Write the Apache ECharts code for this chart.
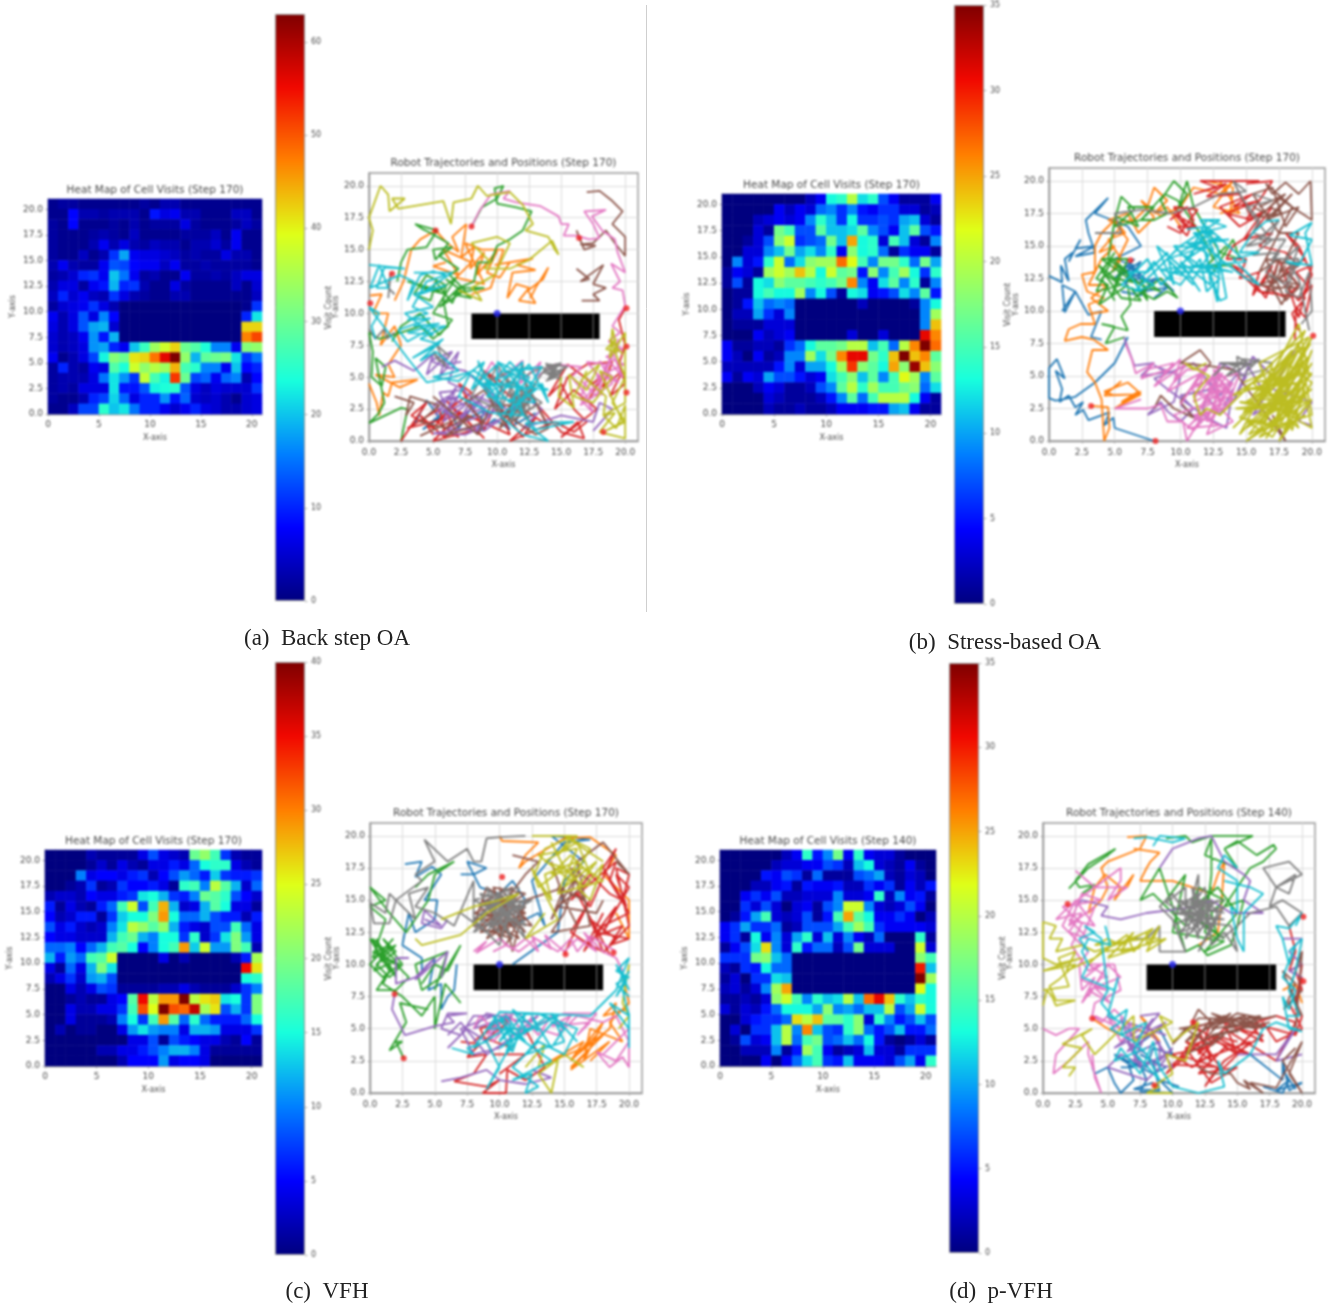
<!DOCTYPE html>
<html><head><meta charset="utf-8">
<style>html,body{margin:0;padding:0;background:#fff}
#c,#o{position:absolute;left:0;top:0;width:1333px;height:1307px}
#c{filter:blur(.8px)}</style>
<script src="https://cdn.jsdelivr.net/npm/echarts@6/dist/echarts.min.js"></script>
</head><body><div id="c"></div><div id="o"></div>
<script>
// ---------- heat map values, top row (y=20) first, 21 columns ----------
const heatA=[
[1,2,2,1,1,1,1,1,1,2,1,3,3,1,1,1,1,1,1,1,1],
[1,1,8,3,3,2,3,3,3,1,9,6,7,3,3,1,1,1,4,4,1],
[2,1,8,1,1,1,2,1,3,1,2,2,2,6,2,1,1,1,2,4,2],
[2,1,1,1,2,3,2,1,4,1,1,1,1,2,2,2,4,1,7,1,1],
[2,1,1,1,3,7,3,6,3,2,4,3,3,1,3,3,5,2,7,1,1],
[2,1,1,4,1,3,11,18,7,6,6,5,4,2,3,2,2,6,3,3,1],
[3,7,3,2,2,7,13,12,8,7,7,4,7,2,2,3,2,2,2,2,1],
[2,3,5,10,11,7,20,15,7,2,3,1,1,7,2,2,3,2,4,6,6],
[3,6,6,2,7,9,19,10,11,3,1,1,6,2,1,1,1,1,4,1,5],
[4,10,5,7,4,3,11,6,3,2,1,1,3,3,1,1,1,1,1,1,4],
[2,5,6,7,11,6,3,0,0,0,0,0,0,0,0,0,0,0,0,1,11],
[7,3,6,13,6,16,8,0,0,0,0,0,0,0,0,0,0,0,0,10,22],
[6,3,6,13,18,19,5,0,0,0,0,0,0,0,0,0,0,0,0,42,42],
[5,3,4,7,17,9,19,0,0,0,0,0,0,0,0,0,0,0,0,47,51],
[5,3,4,6,17,18,10,7,20,26,34,38,42,30,28,24,16,16,7,32,33],
[7,1,3,6,12,23,32,30,41,42,48,56,63,33,19,29,30,31,22,11,15],
[2,10,3,2,7,6,28,24,38,33,36,34,44,27,25,16,16,7,20,8,10],
[2,3,3,3,6,15,22,17,11,37,27,23,52,30,12,14,7,14,16,3,8],
[2,3,2,6,6,6,22,9,9,13,23,24,25,13,6,4,6,5,5,5,11],
[2,1,1,3,10,12,21,14,6,10,10,17,9,14,5,4,5,3,1,5,6],
[1,1,4,12,12,25,20,22,15,10,10,7,5,7,10,6,5,3,3,5,6]];
const heatB=[
[0,0,0,0,0,0,0,0,2,4,13,14,20,12,14,7,4,1,1,1,4],
[0,0,0,0,0,4,2,4,3,8,9,6,9,5,4,6,6,3,3,1,2],
[0,0,0,2,3,4,3,4,9,14,11,6,13,6,6,7,6,10,11,3,1],
[0,0,0,3,1,17,15,7,7,16,11,11,12,16,9,7,4,11,16,7,5],
[0,0,1,3,7,18,21,6,7,8,17,11,25,13,14,3,15,11,3,1,9],
[0,0,3,3,9,11,17,10,12,9,14,4,18,13,14,8,1,6,4,4,1],
[0,9,3,5,14,21,8,12,18,19,19,27,22,15,9,17,17,14,8,17,10],
[1,4,3,1,19,21,19,24,20,13,21,16,17,5,18,9,15,19,13,6,14],
[1,7,1,13,12,18,16,16,15,14,15,17,26,9,4,12,16,9,14,1,9],
[0,1,1,13,15,13,13,19,9,13,7,1,13,12,4,5,7,12,9,16,5],
[0,1,5,11,8,9,8,0,0,0,0,0,0,2,0,0,0,0,1,9,13],
[0,2,2,10,6,3,9,0,0,0,0,0,0,0,0,0,0,0,0,9,19],
[0,1,1,1,3,3,3,0,0,0,0,0,0,0,0,0,0,0,0,9,24],
[0,0,0,4,2,3,4,0,0,0,0,0,3,0,0,3,0,0,0,31,26],
[4,1,1,2,2,1,6,8,13,16,16,17,20,20,11,15,8,20,26,35,27],
[4,2,0,4,1,2,9,9,19,12,17,26,31,31,17,14,24,35,24,26,16],
[2,2,2,2,2,5,9,3,10,10,13,19,29,18,16,13,25,18,34,24,18],
[4,1,4,3,10,7,7,5,3,4,12,15,18,11,16,9,15,22,19,9,16],
[0,0,0,2,4,3,1,1,2,7,9,16,20,14,19,15,15,17,18,8,12],
[0,0,0,0,3,2,1,1,1,2,5,9,16,8,15,20,20,20,13,4,1],
[0,0,0,0,2,1,1,2,1,1,2,4,4,4,5,5,10,11,4,1,1]];
const heatC=[
[0,0,0,0,2,1,1,1,1,4,8,4,3,2,19,21,17,7,2,1,1],
[0,0,0,0,1,3,1,4,2,1,4,4,6,4,9,15,16,16,4,2,1],
[0,0,0,10,4,5,5,4,6,7,2,5,8,11,9,6,13,7,6,6,7],
[0,0,1,2,7,1,2,7,5,5,6,4,1,16,17,10,23,18,12,3,9],
[2,3,3,2,5,4,4,6,7,14,15,12,7,6,10,19,18,16,8,5,3],
[6,1,4,2,1,6,9,17,24,8,17,28,12,3,4,12,18,15,4,4,1],
[5,2,3,6,6,1,7,13,15,15,20,29,15,9,9,12,8,6,6,2,6],
[8,4,6,3,2,3,10,14,23,21,18,21,12,6,4,3,8,8,17,9,4],
[5,4,4,3,3,3,12,17,19,12,10,15,15,7,16,3,7,14,20,11,4],
[9,9,10,5,9,12,17,18,15,5,10,15,17,29,13,24,11,11,20,17,2],
[12,6,11,9,17,18,24,0,0,0,0,4,0,2,0,0,0,0,2,6,22],
[4,1,9,4,12,20,14,0,0,0,0,0,0,0,0,0,0,0,0,35,26],
[2,4,7,3,11,12,8,0,0,0,0,0,0,0,0,0,0,0,0,15,16],
[0,0,4,2,4,8,7,1,1,1,1,2,2,4,2,1,1,1,3,7,10],
[0,0,1,2,1,1,4,5,18,35,23,29,29,40,23,26,27,14,15,7,20],
[0,0,4,2,2,4,4,7,17,32,25,40,32,31,37,22,26,8,12,7,20],
[0,0,4,1,1,1,2,10,15,7,17,29,18,9,16,9,6,6,6,9,15],
[0,2,0,1,1,0,0,4,11,14,11,10,10,4,12,12,11,4,4,4,7],
[0,0,0,0,0,0,0,0,4,4,8,1,8,6,5,4,4,2,1,5,1],
[0,0,0,0,0,2,2,4,4,6,8,10,12,12,10,4,1,1,1,1,1],
[0,0,0,0,0,0,0,2,5,5,5,11,4,5,5,4,0,0,0,0,0]];
const heatD=[
[0,0,0,0,0,0,2,4,14,5,9,17,4,14,4,3,3,1,0,0,0],
[0,0,0,0,0,2,3,3,4,4,7,6,2,11,13,3,2,1,4,1,0],
[0,0,0,0,5,4,7,6,1,8,1,1,1,7,8,10,2,1,3,2,0],
[0,0,0,2,2,4,5,1,5,4,4,5,2,2,6,4,6,1,4,2,5],
[0,0,4,6,4,7,2,2,3,3,3,9,3,3,4,14,2,9,4,5,1],
[0,0,6,3,7,3,0,3,4,1,7,9,21,21,9,3,2,3,7,4,0],
[0,1,5,10,15,3,2,3,7,1,5,15,25,16,13,4,4,6,4,0,2],
[4,6,10,6,6,8,1,2,7,7,7,10,15,19,15,6,4,4,4,4,3],
[4,6,1,13,4,9,3,10,14,3,11,3,9,4,2,8,0,0,0,14,1],
[1,4,7,12,23,9,3,14,5,8,8,2,7,17,3,3,3,0,0,21,3],
[6,6,6,17,18,11,8,0,0,0,0,0,0,0,0,0,0,0,0,18,15],
[2,1,6,5,13,8,8,0,0,0,0,0,0,0,0,0,0,0,0,30,11],
[1,3,0,6,6,12,11,0,0,0,0,0,0,0,0,0,0,0,0,35,19],
[2,3,1,3,9,19,25,0,0,0,0,0,0,0,0,0,0,0,0,22,13],
[1,1,2,1,3,18,21,15,9,14,11,12,20,11,27,31,24,14,11,14,13],
[3,1,3,2,5,8,13,13,13,10,18,9,10,8,11,11,20,7,10,21,13],
[0,0,3,5,6,6,8,23,20,24,16,16,14,18,3,14,9,5,7,11,7],
[0,3,0,6,6,11,20,9,26,11,7,6,14,18,8,5,7,11,5,5,8],
[0,1,7,3,4,11,20,8,15,17,7,8,11,8,13,5,1,0,1,3,1],
[0,0,2,2,2,9,1,5,19,15,4,1,2,3,11,3,3,1,6,6,6],
[0,0,0,0,4,0,4,8,12,15,6,5,11,4,4,4,3,7,10,4,14]];
const barMaxA=63, barMaxB=35, barMaxC=40, barMaxD=35;
const barTicksA=[0,10,20,30,40,50,60], barTicksB=[0,5,10,15,20,25,30,35], barTicksC=[0,5,10,15,20,25,30,35,40], barTicksD=[0,5,10,15,20,25,30,35];
const xTicksHeat=[0,5,10,15,20], tickLabels=[0,2.5,5,7.5,10,12.5,15,17.5,20];
const obstacle=[[8,8,18,10]], goal=[[10,10]];
// ---------- trajectories, flat x,y lists (null,null = hidden stretch) ----------
const A0=[3.5,1.2,4.5,3.2,5.5,1.8,4.2,0.9,6.2,2.6,7,1,8.2,3,7.4,1.6,9,2.4,8.4,0.6,9.8,1.7,11,0.9,9.6,3.2,10.8,2,12.2,3.4,11.4,1.3,13,2.2];
const A1=[0,4.5,0.6,3,0.8,2,1.1,3.8,1.5,3.5,1.8,4.6,3.8,4.8,2.4,4.2,0.5,5.2,2,5,1.5,6,2.5,7.5,2,9,0.9,7.5,1.5,10,0.3,10,1,11.5,0.1,11.4,null,null,2,11,2.7,12.5,3.3,15,4,15.8,5.2,16.5,6,15.6,7,14.8,6.5,16,7.6,17,7.2,14.4,8.2,15.2,7.9,13.5,9,14.8,8.4,13,10,14.9,9.2,13.2,10.2,12.8,11,14,9.8,13.8,12.8,14.3,11.5,13.8,13,13.4,11.2,13.2,10.8,11.2,11.5,12.3,12.5,12,11.7,11,13,10.8,12.4,11.8,13.6,12.7,14,13.6,13,12,12.6,11.2,null,null,6,14,5,13.7,7,13,5.8,15,8,14,6.8,12.8,9,12.3,7.5,15.5,8.8,15,10.5,15,9.5,12,8,11.5];
const A2=[0,1.4,2.5,2.6,3,2.5,2.5,0,null,null,0,1.4,0.7,2.1,1.2,3,0.5,6.5,1.3,5.8,1,4.3,0.2,5,0.3,7,0,8.5,0.8,8,2.5,8.5,4,9,5,8,6.2,9,5.8,11,6,12.2,4.5,13,3.5,11.5,4.8,11,5.2,12.5,6.5,10.8,7,12,5.5,10.5,7.5,11.8,6.3,13,7,13.5,5.5,14.5,6.5,15.2,5,15,5.2,14.2,6.2,15.5,4.8,16.3,4.2,16.6,3.6,17,5.3,16.5,4.5,15.2,3,15,2.5,14,2.2,12.5,null,null,8,16.8,8.8,18.3,10,19,10.5,20,9.8,19.8,10,18.6,11.5,18.3,12.7,18,12,16.5,11,15.8,10,15.3,9.5,14,8.5,14,8.2,12.5,7,12,9,12,6.5,11.5,8,11.2,6,12.7,null,null,4,12,6,11.5,3,12.5,5.5,11.8,6.8,12.8,5,10,6.5,9.5,5.5,8.3,4,10,2.5,9,1.8,7.8];
const A3=[2.5,0,3.5,1.5,4.5,3,3.3,2,5,1,6.8,3,5.3,1.5,7,0.3,6,2.3,8,3.8,7,4.5,9,0.9,9.5,2,10.5,4.5,9,5.5,12,2.5,14,1.2,13,3,15,0.7,16.8,0.2,16.3,1.5,15,0.3,17.8,2.5,16,4,14.5,2.5,15.5,5,17,6,19,6.2,18.2,4.2,19.8,5.5,18.8,3.5,20,4.5,19.5,6,20,7.5,19.5,9.5,20,10.4,null,null,5,0.5,4,2,6,0.2,5.5,2.5,3,1,7,2,5,0,8,0.8,6,3.2,9,0.2,7,2.3,11,0.5,10,3,12,0.3,13,1.8,11,0,14.5,1.5,16,0.7,17,1.5,16,2.5,15,4.5,14,3.5,15.5,6,17.5,4.5,18.5,5.5,17,3];
const A4=[1,5.8,2,6.3,3.5,5.5,5,6.8,4.5,5.2,6,6.6,5.5,5,7,7,6.2,4.6,7.5,4,5.5,3.8,6.3,2,5.5,3,7,3.5,6,2.3,8,3.2,7,1.5,9,3.7,8,2.2,10,3,8.8,1.2,6.5,0.8,5,0.6,7.5,0.5,10.5,1.8,12,3.5,13.5,2.5,12,1,15,2,17.5,1.5,18,3,19,2.5,17.5,0.8,null,null,5.2,2,6.8,4.2,5.8,1.5,7.5,2.8,6.2,3.5,5,2.8,6.8,1.8,8.5,2.8,7.2,4.2,9.5,1.8,8.2,3.6,10.5,2.6,6,1,9,0.8,11,2.2,9.5,3.8,7.5,5.5,6,5.8,4.8,6.3,6.5,7,5.8,6,7.2,6.2];
const A5=[2,3.5,3.5,3,2.9,2,3.2,3.5,5.5,2.8,4,1.5,6,1,8,2,6,0.4,9,1.5,7.5,3,9,4,10.5,1.5,11.5,3.5,12.5,1.5,11.5,4,10.8,2,12,2.8,11,3.2,12.3,3.8,11,1.4,13,2.8,null,null,4,0.4,7,1.8,5,3.5,8.5,0.5,9.5,2.8,11,2.8,10.2,1,12.8,3.5,14,1,13,0.5,10,2.5,null,null,16.6,11,18,11,17.5,11.5,18.5,12,17.5,12.3,18.3,13.8,16.5,12.5,17.2,12.7,16.2,13.5,null,null,16.2,16.5,16.8,15,17.7,15.3,16.5,15.4,17.5,15.5,18.5,16.5,19.2,15.5,20,14.5,20,16,19,17,19.8,18,19,18.8,18,19.6,17,19.5];
const A6=[8,16.8,8.6,18,9.5,19.3,11,19.6,10.5,19,11.5,18.7,13.4,18.4,14.8,17.6,15,17,15.6,17,15.2,16.1,16.2,16.1,17.2,15.8,18,15.9,17.5,17,16.8,18,18.5,18.1,17.4,17.6,18.2,16.5,19.2,15.8,19.4,14.8,20,13.2,18.9,13.9,19.6,12.5,19,12,19.8,11.8,20,10.6,19,9,19.6,8.5,18.7,7.8,19.8,7.2,18.5,6.6,19.9,6,18.6,5.4,19.5,4.6,17.8,5.2,18.2,3.6,17,4.8,16.5,3.3,17.5,2.2,16.8,3.8,15.8,5,16.6,5.8,14.5,6,13,5,13.4,6.2,11.8,4.5,12,6.3,10.4,5,9.6,6.2,8.8,4.8,null,null,16.5,4.8,17.8,3.5,18.5,6,17,6.2,18.2,4.8,19,7,19.8,5,18.8,6.2,19.5,8,18.5,5.5,16.5,2.8,19,4.5,18,6.3];
const A7=[0,8.8,0.5,8,1.2,8.8,1.4,8,2,8.5,null,null,1.5,11.2,1.7,13.2,1.5,12,2,11.5,null,null,8.5,6,9.5,4.8,10,6,11,4.2,11.2,2.2,12,3.5,11.6,1.8,12.4,3,11,3.8,12.2,2.2,11.8,4,13,3.2,12,5,13.5,5.8,14.5,5,13.8,6.1,15,5.3,14,4.9,14.8,6,13.6,5.4,15,4.8,14.2,5.8,14.6,5,13.8,4.7,15.2,5.6,null,null,9,5.5,8,3.5,10,2.5,9,4.5,11,5.5,10,2,12,6,12.5,2.5,11,1.5,13,4.5,12,2.2,13.5,3,10.8,4.8,12.4,1.6,11.3,3,12.6,4,14,6,15.5,5.8,14,5.2,15,6.1,13.8,5.8,null,null,5.5,6.2,5,7,6,5.8,5.3,7.5,6.3,6.6];
const A8=[0,15,0.3,16.5,0,17.5,0.9,20,1.5,19.3,1.6,18,2.8,19,1.8,19,2.3,18.2,5.8,18.8,6.4,17,6.6,18.7,8,19,8.5,20,9.2,19.2,11,19.5,12,18.5,12.8,17,12.2,16.5,14,16,14.5,15,14.8,14.6,14.3,15.7,12.5,14.2,11,13.5,9,13.5,9.5,14,8,15.5,10,16,11,15.5,9.8,13,8,12,8.5,11.5,8.8,11,7,11.8,null,null,15,5,14.8,3.5,16,2.6,15.6,5.2,17,4,18,6,16.8,5,18.5,3.5,18.3,2,19.2,2.2,18,0.7,20,0.2,20,2.8,19.3,1,18.3,2,20,3,20,8.5,18.8,6.5,19,8.8,19.4,7,18.5,7.2,19.3,8,null,null,17,5.5,16,3.5,17.5,3,19,5,18,5.5,19.8,1.5,18.5,0.8,20,1.5,19,3,20,5,18.8,8,19.8,6.8];
const A9=[0,13.8,1,13.7,2.8,13.5,1.2,13.6,0.6,12,1.5,12,0.8,13.8,0.1,12,2.4,13,3.5,12.5,3,11,4,13,5,13.3,6,13,4.5,12.5,3.4,10.5,4.6,10,3,9.5,4.8,9.6,2.3,8.7,3,7.8,5,8.9,6,9,4,8,5.5,7.6,3.4,6.5,5.8,8,4,6.3,5.2,7,7,5.5,5,5,7,4.7,9,6.2,8,4,10,6,10,3.5,12,5.5,9.8,4.8,11,6.2,13,4,10.2,2,12,0.5,14,0,12.2,1.4,16,1.5,13,0.9,11.5,2.8,13.5,4.5,14,3,12.5,6,10.5,4,8.2,5.5,6.5,5,4.5,4.6,3,6.5,0,10.5,0.8,10,0.2,9,0.5,8,null,null,8.5,6.3,9.5,4,8,5.2,10.5,2.5,9,5,11,3,12.5,5,10,6.2,13,3,9.2,3.5,12,6.2,11,1.8,13.5,5.8,10.5,5.5,14,4,8.5,4.5,11.5,4.5,12,2,9.5,2.2,7,3.5,8,5.5,null,null,3.5,9,5.5,9.2,3,8.5,5,8.3,2.8,10,5,10.5,3.5,11.5,6,12.2,4,11.5,6.5,13.2,3.5,13.2];
const redA=[[5.2,16.5],[8,16.8],[0.1,10.8],[1.8,13.1],[16.4,15.9],[20.1,10.4],[20.1,7.4],[20.1,3.8],[18.3,0.7]];

const B0=[8,0,5,1,4.9,1.8,4.2,1.2,4.6,2.2,3,1.6,2.6,2.4,2,2,2.6,3,2,2.6,1.5,3.5,0.8,3,1,4,0.5,5.4,1.2,4.8,0.6,6.3,0,5.6,0,3.3,0.5,3.1,2,3.4,3.5,4.5,5,6,6,8,null,null,0,12.7,1,12.2,0.9,13.5,1.5,12.3,1.2,14,1.8,14.5,1.5,13.8,2.4,15.5,2,14.8,3.5,15,2,14.2,3.5,14.5,3,16,2.8,17,4.5,18.7,3.5,17.5,4.8,17,6,16.5,7,15,6,14.5,5,14,6.5,13.5,5.5,12.8,6.8,13.2,5.8,13.5,7,12.8,5.9,12.6,8,12.3,7,11.5,9,11.8,8,11,null,null,1,10,2,11.5,1,12,1.2,9.9,2,11.5,3,9.7,4,10,3.2,8,4,7.8,null,null,5.5,13,6.5,14,5,12.5,7,13.8,5.8,12,6.2,13.5,7.5,12.3,6.5,12.8,5.2,13.5,6.8,12.2,8.5,12.5,9.5,11.5,8,12.5,7,11.2,5.5,11.5];
const B1=[3.2,2.7,4.5,2.6,4.6,1,4.2,0,4,3.2,3.5,4.5,2.9,5.3,3.3,7,4.5,7,3.4,7.8,2.5,8,1.2,7.7,1.5,8.6,2.4,9,3.5,9,3,10.5,4.2,11,2.9,11.5,2.5,12.8,3.5,13,3.5,15,4,16,5,17,5.8,16,4.5,15.5,5.5,14,4.8,13,6,15.5,5,16.8,6.5,17,7.5,18,8,19.5,9,18.5,8,17.5,9,18,10,16.5,null,null,5,3.5,4.2,3.8,6,4.5,6.8,3.8,5.5,3,7,3.8,5,2.5,7,3.6,4.2,3.5,5.5,4.6,null,null,12,20,14,19.5,13.8,17.5,14.5,18,13,17.5,null,null,3.2,9.8,4.5,10,3.2,11,4.5,12,3,12,4,14,5,15,3.8,14.5,5.5,16.5,4.5,17,6,17.5,6.8,16,8,17.2,7,18.5,8.5,17.3,10,18,11,19.5,13,19,14,20,12.5,18,14.5,17.5,13,20];
const B2=[5.8,8,4.3,7.5,5,8.8,4,9,6,8.5,5.5,9.6,6.2,10.5,6,12,3.8,10.5,4.5,12,3.6,12.5,5,14.5,4,13,5.5,12,3.6,11.5,4.8,14,6,13,7.5,10.8,7,12.5,8.5,11.5,7,12,4.5,14,5,17,5.5,18.8,6.5,17.8,5,16.5,7,17,8,17,9,17.5,8.5,18.5,9.5,20,10.5,19,9.8,17.8,10.5,20,11,18,13,14.5,14.5,14,14,15.5,12.5,13,null,null,5,10.8,4,12.5,5.5,13.5,4.8,11.2,6,14,4,14,6.5,12.2,5,12.5,3.8,13.5,5.5,11,7,10.8,6.2,11.8,8,10.9,9,11.5,9.8,11,8.5,12.5,6.5,11,null,null,5,17.3,6.8,16.5,6,18,8,18,7,17,8.8,19,9.8,18.5,10.5,17.5,11.8,15.5,12.5,14,13.5,15,12,13.5,14,13.5];
const B3=[16,20,11.5,20,12.8,19.5,11,19,13.5,19.8,12,18.8,14.5,19,15.5,17,13.5,17.5,16,18.5,15,17,17,18,15.5,16,14,15,13.5,14,15,14,14.5,12.5,16,13,15.5,11.2,17,13.5,16.2,12,18,11,19,12,18,13.2,19.5,14,18,16,19,15,20,12.8,19.2,11,20,12,19.5,9.5,18.8,10.3,18.7,7.8,null,null,9.2,17,10.5,18,11,17,10.5,15.8,9.8,16.5,11.2,16.5,9.5,17.5,10.7,16.2,9.5,18,11.3,17.8,10,16,9,16.5,null,null,15,19.8,17,20,16,18.5,14,18,15.5,19,13,18,14.5,16.5,16.2,17.5,14.8,15.5,17,16,16,15,18,14.5,19,13.5,17.5,12.5,19,10.8,19.8,11.8,18.8,13,20,13.5,19,9.5,17.5,14,16.5,11,15,13,14,13.5,16,11.5,19.5,11,18.5,9.8,19,8.5];
const B4=[5.7,8,6.5,5.8,8,6,7,5,9,5.3,8,5.8,10,5,9.5,3,7.5,2,8.5,3,9,2.3,10,1.5,11,2.5,10,3.5,12.5,4,13,6,15,5,14,3,15.5,6.5,17,5,18,6,18.7,7,17,4,20,3,19,1.5,20,1.2,null,null,10,2.8,11.5,1.5,12,3.5,13,2,14,4,13.5,1,12,1.8,9,4,8,4.8,11,6,13,3.5,15,6,16.5,3.5,15.5,2,18,3.5,19,5.5];
const B5=[16,18,18,19,16.8,18,17.8,17.5,16,17.2,17.5,18.7,18.5,18,16.5,19.8,17,19,18,19.9,19,19,19.9,20,20,17,18.5,18,16,13,17.5,14,17,12,18,13,19,12,16.5,12.7,17.7,10.5,18.5,12,16.5,11.5,18,13.5,null,null,8,2.5,8.5,3.5,9.5,2.5,11,1.8,10,3,12.3,6,11.5,7,10,6,12,5.8,14,5.5,18,0,17,2,null,null,15.5,18,17,17.3,18.5,19,16.5,17,19,18,18,16.5,17,19.5,15.5,19,17.5,16,19,16,17.5,13,19,13.5,16.5,14,18,10.8,19,11.8,17.5,11.8,16,12,18.7,13];
const B6=[5.8,7.5,6.3,6.3,6.6,5.2,8,6,7,4.8,9,5.5,8.5,4.8,10,6.3,9.5,4.5,10.5,5.5,12,5.5,11,4.3,13.5,5,12,3,14,4.5,12.5,2,13,5.8,11.5,3.7,13.5,3,11,1.5,12.8,5,13.8,3.8,11.8,4.8,13,3.2,12.5,4.8,14.5,5.2,13.5,2.5,11,2,13,1.2,10.5,1,12,2.5,10.5,0,10.2,1.5,9,1.5,8.5,2.8,7.5,2.5,5,2.5,7,3.2,null,null,7.5,5.5,9.5,6,8,4.2,10.5,6,9,3.8,11.5,5.2,10,2.8,12,5.8,11,3,13,4,12,1.5,14,3.2,12.5,5.5,13.8,4.5,12,4,14.2,3.6,11.5,2.5,13.2,5.2,10.8,4,12.3,3,9.5,2,11,0.8,12.8,2.8,14,1.5,12,0.5,13.5,4.2];
const B7=[3.5,16,5.5,16,5,17.5,7,17.8,9.2,17.5,11,18,12,18.5,13,19,15,19.2,14,20,14.8,18.5,16,17,15.5,16,17,15.5,15.5,14.3,17.5,14.5,16.5,13,18,12,19,15,18,14,19,12.5,19.5,10,19.8,8.5,null,null,12.5,5,13.5,6,14,5.8,15,6,13,6,15.5,5.8,14.3,6.5,14.5,5,16.5,5.5,null,null,15.5,19,17,18.5,15,18,16.5,16,15,15,16.5,15.3,17.5,17,16,15.5,18,15.5,17,14,19,14,18,11.5,19,11,19.8,13,20,10,19.2,9,null,null,15,5.3,16,6.3,13.5,5,14.8,6.3,17,6,15.8,4.8];
const B8=[14.8,4.5,16,5,17,6,16.5,4,18,6,15.5,3.5,19,7,17,3,19.9,7.5,16,2,19.5,6,14.5,0.5,19,9,19.8,5,15,1,20,4,15,0,20,3.2,17.5,0,19.2,3,14.2,2.5,18,2.5,16,0.3,19.5,2,18,1,14.5,1.8,19.8,6.5,18,4.5,20,8,17.2,1.5,18.5,5.5,16,0.8,20,2,19,7.5,15.5,2.5,17.5,5,18.5,0.8,19.5,4.5,17,0.3,15,1.5,16.5,1.5,19.5,8.5,13,2,12,2.5,11.5,2,11,3.5,12.2,5,10.3,6,11,5.5,12,6,null,null,14,1,18,5,15,3,19,4,16.5,0.2,20,6,18,3.2,17,5.5,19,1,15.5,4.5,20,5.2,17,1,19.5,3.5,14.8,2.2,18.5,6.5,16.2,3.2,19.8,3,17.8,0.5,20,7,18.8,4,16.8,2.2,19.2,5.5,15.2,0.5,18.2,2,20,1,19,6,17.5,3.8,16,1.2,19.5,7.2,14,3.5,16.8,4.5,18.5,7,15.8,3.8,17.8,6.2,20,4.5,18.5,1.8,16.2,4.2,19,2,14.5,3,17.2,2.8,16,6,19.8,8,18.2,5.8,17,4,15,4,19.2,4.5];
const B9=[20,13.5,18,13.8,19,13.5,20,15.5,18.3,15.8,20,16.8,19.5,16,20,13.5,null,null,17.5,17,16.5,16.9,15.5,16,14.5,14.5,16,14.5,14,14,16,12,15,12.5,13,14,12.8,10.7,12.5,12,11.5,16,13.5,16.5,12,17,11,15,13,15.7,10.5,14,12,16,13,13,9.5,13,11,14.5,8.5,12,7.5,14,5.5,12,7,11.5,6,13,7.5,13,9,14.5,9.5,12,8.2,15,10.5,13,11.5,11.5,10,13.8,12.3,12,12,14.5,10.5,15.2,13.7,15.5,null,null,10,13,11,12,9,14,12,15,13.5,13.5,11,16,12.5,16,10,14.5,13,12.5,12,11.5,11.5,14,10,12,9,12.5,8,13.8,7,12.5,8,12,6.5,11.5,10,15,13,17,11.5,17,12.8,15,13.5,11,13,10.8,12,13.5,14,13,11,13.5,9.5,15,12.5,14.8,11,12.5,8.5,13.2,15,13.8,12,16.5,10.5,16.3];
const redB=[[8.1,0],[3.2,2.7],[20.1,8.1],[6.2,13.9]];

const C0=[2.7,17.8,4,18,3.5,16.8,4.8,17.6,5.5,17,4.2,15,5.2,15,5,13.5,3.5,12.5,3,14,2.5,11.5,4,10.5,4,9.5,5,10.5,4.5,8,5.5,8.5,5.5,6.5,6,7.5,6.5,8,6.7,10,null,null,7,17,8,17,9,17.5,7.5,18,8.5,16,10,15.5,11,16.5,12,15,11,13,13,14,13.5,13,12.5,16.5,15,19.5,17,19.7,14,20,16.5,18,15,16.5,14.5,12.5,11,10];
const C1=[10,20,10.2,19.6,13,19.5,12,18.5,11.5,17.5,12,18,15,19.8,17,19.9,19,18.5,18,17,20,15,20,12,19,14,null,null,19.5,9,20,7,18.5,5.5,19.5,4,17,5,16.5,2.5,17.5,4.5,15.5,2.5,16.5,4,14,2.5,16.5,3.5,18,4.5,15.5,2,null,null,17,2.5,18.5,4,15.5,1.8,17,3.5,18,5.5,16,3,18.5,5,19,7,18,6,19.8,6.5];
const C2=[7,7,5.8,8.5,5,5,5,7.5,4,6,3.5,6.5,2.5,7.5,1,8.5,1.5,9.5,0.5,8,2,8,3,9,2,10,0.5,11,1.5,11.5,0.3,9.5,2,10.3,0.2,12,0.9,10.2,2,11,1,12,2.5,10,1.5,9,0.5,10,2,11.5,0.2,10.5,1.2,13.5,0,14.5,1.2,15,0,16,1.5,14,2.8,12.5,4.5,15,5,17,6.5,18,4.5,17,3.5,16,null,null,2.6,2.7,2,4,2.5,4,1.5,3.3,2.8,5.5,2.3,7,4.5,6.5,null,null,4,8.5,5,10,6,9.5,7,11.5,5.5,9,4,8,3.5,10,6,11,5,8,null,null,1,11,0,12,1.5,9.5,0.5,12,2,9,1,10.5,0.2,11,2.3,10,1,9,0,10,1.8,12];
const C3=[7,4,8.5,3.8,7.5,2.8,9,3,8,1.5,6.5,0.9,9,0.5,10,1,8.7,0,10.5,0,10.6,1.8,12,1,13.5,2,12,5,9,5,11,5.8,9,4.2,11,3.5,null,null,8,4,10,5.5,8.5,5,9.5,3,12,3,10,1.5,null,null,15,10.8,16,13,17,15,15.5,12.5,17,11.5,18,11,17,13.5,19,12,18,10.9,20,13,19,17.5,20,17,19.5,15,18.5,15.5,17,17,15.5,15,19,18,18.5,16.5,20,14,18,13,16.5,11,18,14,17,12,19.5,13,18.5,11.5,20,12,17.5,12.5,19,14.5,18,12.5,20,16,19,17,19.8,14.5,18,17.5,19,19,17,14.5,16,15.5,18.5,10.8];
const C4=[1.9,7.7,1.7,6.5,2.7,4.5,5,5.2,6.5,5.5,6,6,7.5,6.2,6,6.2,5.5,5,7,4.5,8,6,9.5,6,7,5,8,3,10,3.5,null,null,6,3.5,7.5,5,9,4,10,5.5,11,6,8,5,9,6.2,12,5.5,13,6,10.5,4,9,3,7,5.5,6,4.5,null,null,3,10.5,2,10.5,2,8.5,3.5,9,5,10.5,3.5,8.8,6,11,5.5,9,null,null,4.2,13.5,5.5,13,4.2,14.2,4,13.2,5.5,12.8,6,13.5,null,null,5.5,0.9,7,1.2,9,1.8,10,1,12,0.7,14,1.2,12.5,1.8];
const C5=[11,18.5,13,18,12,17,10.5,15,9,16,8,13,11,12,8.5,14.5,11.5,15.5,8.5,13,12,13.5,9.5,15.5,12,14,9,12,11,15,8,14,12.5,13,10,16,11,11,12,15,15,16,14,13.5,16,17,15,14,14,12.5,17,13,16,18,18,19.5,20,17,19,18,null,null,9,14,11,13,8.5,12.5,10.5,14.5,12,12.5,9,15,11,16,10,12,12,14.5,8.7,15,10,13,11.5,12,9.5,16,12,15.5,9,13.5,10.5,11.5,11.5,13.5,8,13.5,10,14,9.5,12.5,11,14,null,null,14,18,15,15,16,13,14.5,16,16.5,15,15.5,17.5,17,16.5,14.5,14.5,17.5,14,18,15];
const C6=[8,11,9,11.8,8.2,10.9,10,12,11,11.2,12,12,13,11,12.5,12.2,14,11.2,13.5,12.3,15,11,16,12,17.5,11,16.5,12.5,18,11,19,10.5,19.5,9.5,null,null,9.5,11,10.5,11.5,11.5,11,12.8,12,14.5,11,15.5,12,16,11,17,12.2,18.2,11.5,19,11,null,null,8,5,8.5,6,10,4.5,10,6,11.5,6.2,13,4.5,14,6,15,5,16,6,18,5.5,19,6,20,4,19,2.5,17.5,3.2,18.5,2,19.5,2.8,20,2,20,5,18,3,null,null,9,5.5,9.5,4,11,5.8,12,4.5,12.5,6,13,5,14.5,4.5,15.5,6,14,5.2,17,5.5,16,4.5,17.5,6.2,15,6.2,11,4.5,10.5,6.2,9,4.5];
const C7=[12,20,10,19.9,9,19.8,8.6,18,8,18,7.5,19,6,18,4.2,19.7,5,18,3.5,17,4,16.5,2,15,1.5,15.5,1.2,14,0,14.8,0.3,13.2,1.5,13.2,2,15,3.5,13.5,3,15.5,4.5,16,3.5,14.5,5,14,6.5,13,8,16.5,8,13,10,15.5,8.5,14.5,12,15,9,13,11.5,14.5,8,12.5,10.5,16,12,13,9.5,14.5,11,12,8.5,15.5,11,15,9,12.5,7,14,null,null,8.5,13.5,10,12.5,9,16,11,13.5,9.5,13,12,14.5,10,14,8,15,11.5,16,10.5,13,9,14.5,12.5,15,9,13,11,15.5,10,11.5,8,13.5,10.5,15.5,12,12,9.5,15,11.5,13];
const C8=[12.5,20,16,20,14.5,18.5,15.5,19.9,13.5,19,12.7,17,14,15,13.5,17,16,18,15,16,17.5,18,16,16,17,15,18,17.8,16.5,16,15,17.5,13,16,12.5,17.5,14.5,13.5,12,12,13.5,14,null,null,14,19.5,15,17.5,13.5,18,16,19.5,17,17,15.5,18.5,14,17,16.5,17.5,18,16.5,14.5,15.5,16,19,13,18.5,15.5,16.5,17,19,15,20,18,18,null,null,5.5,13.5,8,14.5,10,15,11.5,15.5,9,14,7,12.3,4,11.5,3.5,12,null,null,12,2,13.5,3.8,13,2,14.5,2.5,14,0,13,1.5,15,3,16.5,2,null,null,20,10,19.5,7,20,6,19.2,5];
const C9=[6.3,3.5,8,3,7.5,3.5,9,4,10,2,9,0.3,11,4,10,6,11,5,10.5,3,12,5,11,6.5,13,4.8,12.5,6,14,3.5,15,5,13,6.2,16,5,15,3,13,4,11,2,13,0.5,12,0,12.5,1.5,11,1,14,2.5,10.5,5,8,3.5,10,6.3,17,6,18,7,19,8,20,10.5,19,9.5,20,9,19,8.5,20,7.5,19.5,8,20,6,18.5,7,20,5,20,3.5,20,6.2,null,null,11,5.5,10,4,12,6.2,11,3.2,9.5,6,12,4,10.5,6,9,5,12.5,5,10,3.5,13.5,5.8,11.5,4.5,14.5,6,12,3,15,4,14,6.2,16,4,null,null,19,10,19.5,9,20,8,19.2,9.8,19.8,8.7,19,7.5,20,9.5];
const redC=[[2.6,2.7],[1.9,7.7],[10.2,16.8],[15.1,10.8],[18.8,10.9]];

const D0=[3.8,2,4,1.5,5,2,5.5,0.8,6,0,7,1,6.5,2.5,8,2,8.5,3.5,10,3,9,5,7,3.5,8,1,7.5,0.1,10,0,9,1,10.5,0.5,null,null,6,2,7,2,5.5,3,8.5,1.5,9.5,2,7.5,3,8.5,2.5,9,0.2,7,0.3,8.5,0.8,null,null,17,0.5,18.5,0,19,1,18,0.2,20,0.8,19,0.2,18.5,2.5,18.5,1,16,3,null,null,18.5,1.8,19.5,0.3];
const D1=[6.5,19.9,8,20,7.5,19,5,18,4.5,17.5,5,16,4.5,15,3.5,14,4,16,4.8,17,6,16,5.5,15,7,17,6.5,16,null,null,7,19,9,18.7,8.3,18,8,17.5,7.5,16.5,10,16.5,13,15.5,13.5,17,14,18,13.8,15,13.5,12.5,12,11.5,null,null,3.8,5.8,5,5,6,4.5,7,5,8,4.7,9,4,7.5,6,8,5.5,null,null,18.5,8,19.5,8.5,20,7];
const D2=[2,15.9,3.5,17.5,5,18.5,5.6,19,3.5,17.8,2.5,16.5,2.8,16,4,16.2,3,15.5,null,null,9.5,19.8,11,20,11.5,19.5,13,20,16.2,20,14,19,15,19.6,16.5,18.5,17.8,19.3,18,19,17,18,16,17.5,15,16,14,14.5,15.5,15,15,13,14.5,11.5,12.7,10.7,12,11.5,11,11,10,14.5,9,17.5,7.5,15,8.5,15.5,11,13,12,16,14,15,13,14,13.5,12,12.5,12.5,13,17,13,19.8,12.5,18.5,15,17.5,14,19,null,null,13,16,12,13.5,14,12,11,14,13.5,16,15,14,12.5,11,14,11.8,10,12.5,11,17,9.5,15];
const D3=[19,13,19.5,11,19,9.5,20,10,19.5,7,20,9,19.5,6.5,20,6,19.5,4.5,16,5.5,17,4,14,5.5,15,3,12,5,13,2.5,11,4,12.5,3.5,10,3,11.5,2,13,3,14,1.5,12,4.5,9.5,1.5,11,2.8,13.5,2,12.5,0.5,14,2.5,17,4.5,15,5,18,6,19.5,5.5,18,2.5,14,5,12,3,13,5.5,11.5,5,null,null,15,4,13,4.5,16,3,14,3.5,12,1.5,15,2,13,0.8,11,3.5,13.5,4.5,12,2.5,16,4,14,2,10,2.2,12.5,4.2,15,3.5,17,5.5,18,4,20,5,19,7,20,8,19.5,9.5,20,11];
const D4=[7.5,6,9,6.2,8,5,9.5,4.5,6.5,5.5,7,4.2,6,5.8,7,3,9,4,9,2.5,10,3.5,9,2,8,1,5,2,6,3,8,2,null,null,8,3,6.5,4,7.5,2,9.5,3,8.5,4.5,10,2,7,2.5,8.5,5.8,6.5,3.2,9.5,5.5,5.5,3.5,7.5,5,null,null,9,17.5,10,19,12,19.8,13,20,14,18,15.5,17,16,16.5,15.5,15,17,14,14.5,14,13,15,12,14.5,8,14,6,13.5,4.5,13.8,5,14.5,3,15,2.5,14.5,null,null,18.5,12,20,12,19,11,20,10,19,9.5,20,9,null,null,15,3,18,3,19.5,5,18,2.5,20,3];
const D5=[11.5,5.5,12,6.5,13,5.5,14,6,15,5.2,16,6,17,5,15,5.8,14,5,16.5,5.5,13,5,15,6.2,17,5.8,12,5.8,10,3.8,11,5,13,3.7,14,4.5,11,3,13,5.8,15.5,5.5,18,6,null,null,12.5,5,14.5,6.2,13.5,5.3,15.5,6,16.5,5,14.5,5.4,13,6.2,16,5.2,12.5,4.2,14,5.8,11,4,12,5,10.5,5,16.8,6,15,4.8,13,4.5,17.5,5.5,null,null,12,2,13,1.5,14.5,1.5,15,0.8,16,0.3,15.5,1,17,0,16,0.8,18,0.4,20,4,19,1.5,20,0,18.5,2.5,19.5,3.5,null,null,19.5,5,20,11,19,8,20,6,18.5,9.5,19.5,8.5,18.6,6.5,20,8];
const D6=[0,5,1,4.5,2,5,2.8,5,1,3,0.8,1.5,2,2.5,3.5,4,3.5,3,4,1.5,4.5,0,4,1.2,3.8,3,null,null,2.5,17.3,4,16,6,17.5,6,16.5,5,15,6.5,16,4,16,2,14.5,1,13.5,3,14,2,12.5,3.5,12,2,13.5,4,13,2.5,15,1.5,13,3.5,11,2.8,10,3,8,4,9,3,7,4.5,9,5,9,3.5,10,5.5,10,6,8,4,7,3.8,6,4.5,5.5,5.5,6.5,7,5,6,4,5,6,6,5,4,6,null,null,3,12,4,14.5,2,13,3,15.5,4.5,15,1.5,14.5,3,13.2,2.2,11.5,3.5,9.5,4.5,10,3,8.8,5,8,4,8.2,5.2,7,3.5,8,6,9,5,10,3.5,7.5];
const D7=[7,12,8,12,9,13,9,11,11,11,10,13.5,9,14.5,10,15.5,11,14,9.5,14.8,11,16,11,13,12,17,12,12,11,15,13,15,11.5,12.5,12.5,15,11,14,13,13,11.5,15,13.5,14,12,11,14,14.5,11,13.5,14.5,13,15,11,14,12.5,13,11.5,12.5,16,11.5,14.5,14,15,null,null,10,13,13,14.5,11,12,12,15.5,10.5,14.5,13,12.5,11.5,16,12,13,10.5,12.5,13.5,15,12,14,10,14,14,13.5,11.5,13.5,12.5,14.8,11,14.5,13,13.8,11.8,12.2,12.5,13.2,10.5,15,14,14,12,15,null,null,13.8,12,15,13,16,14,18,14.5,19,13,20,14,18.5,15,17.5,14.5,18,16,19.5,17,19,15.5,18,16,20,17,19,18,17,17.5,18,16];
const D8=[0,6.8,0.3,8,0.7,7.5,1,6.8,2.5,7.2,1,7.2,0.5,8.3,1.2,8.8,2.5,10,0,9.5,3,10.5,1,10,0,10.5,0,13.3,1,13,0.5,12,1.5,12,1,11,3,11.5,4,11,5.5,11.5,8,12.5,8,11.5,9,13,8,11,9.5,12,6,11,7,12.5,5,10.5,7.5,11.3,4.5,11,3.5,10,null,null,0,8,2,8.3,1.2,10.5,2.5,11,1.8,9.5,4,10.5,6.5,12.3,7,11,8.5,12.8,6,11.5,5,12,4,11.5,8,12,9,12,null,null,2,1.3,2.5,2,1.5,2,3,3.5,1.5,3.8,3.8,5,3,4.5,4,3,5,4,6,5,7,6,7,4,8,4.5,10,5.5,9,6,10,4,12,5.5,11,2.5,9.5,3,10,1.5,8.5,0.5,9,0.5,8,0,10,0];
const D9=[7,19.8,8,19.9,10,19.5,11,19.8,9,20,8.5,19.2,null,null,15,17.5,14,18.5,13.5,17.5,15,16.5,15,14,14.5,14.5,15,12,15.5,11,15.5,14,17,15.5,16,16,14,16.5,null,null,19.5,13,20,14,19,12.8,18,13,18.5,12,19,10,19.5,11.5,18.5,9,19.5,8,19,6.5,18.5,7.5,19,5,20,4.8,18,5.5,17,5,16,3,14,1.5,13.5,2.5,14,0.5,12,0,10,0.5,9,2,8.5,4,7.5,1.5,6,3.5,5.5,2.5,8,3.5,null,null,4.8,13,5.2,11.5,3.5,12,3,11,3.5,10,3,9,5.5,8,5.8,9,5,6,6,5.5,5.2,5,7,4,8,3,null,null,3.5,11,2.8,12,4,12.5,3.2,13,4.5,12,5,8,4.5,7,5.5,5.8,6.5,6.5,6,4.5,8,5.5,7,3.2,9,1,8,3,null,null,19,11,20,12,19.5,9.5,19,8,19.8,6,18.8,6];
const redD=[[1.9,14.7],[3.8,5.8],[20.1,13.7],[20.1,8.7],[11.6,5.5],[8.6,0.6]];

// ---------- styling and layout ----------
const jetEven=['#00007f','#0000ff','#007fff','#18ffdd','#7fff7f','#dfff18','#ff7f00','#f10800','#7f0000'];
const tab10=['#1f77b4','#ff7f0e','#2ca02c','#d62728','#9467bd','#8c564b','#e377c2','#7f7f7f','#bcbd22','#17becf'];
const INK='#4a4a4a', FRAME='#969696', FONT='DejaVu Sans';
const panels=[
 {heat:heatA,heatBox:[48,199,262,414],barBox:[275,14,305,601],barMax:barMaxA,barTicks:barTicksA,trajBox:[369,173,638,441],traj:[A0,A1,A2,A3,A4,A5,A6,A7,A8,A9],red:redA,heatTitle:'Heat Map of Cell Visits (Step 170)',trajTitle:'Robot Trajectories and Positions (Step 170)'},
 {heat:heatB,heatBox:[722,194,941,414],barBox:[954,5,984,604],barMax:barMaxB,barTicks:barTicksB,trajBox:[1049,168,1325,441],traj:[B0,B1,B2,B3,B4,B5,B6,B7,B8,B9],red:redB,heatTitle:'Heat Map of Cell Visits (Step 170)',trajTitle:'Robot Trajectories and Positions (Step 170)'},
 {heat:heatC,heatBox:[45,850,262,1066],barBox:[275,662,305,1255],barMax:barMaxC,barTicks:barTicksC,trajBox:[370,823,642,1093],traj:[C0,C1,C2,C3,C4,C5,C6,C7,C8,C9],red:redC,heatTitle:'Heat Map of Cell Visits (Step 170)',trajTitle:'Robot Trajectories and Positions (Step 170)'},
 {heat:heatD,heatBox:[720,850,936,1066],barBox:[949,663,979,1253],barMax:barMaxD,barTicks:barTicksD,trajBox:[1043,823,1315,1093],traj:[D0,D1,D2,D3,D4,D5,D6,D7,D8,D9],red:redD,heatTitle:'Heat Map of Cell Visits (Step 140)',trajTitle:'Robot Trajectories and Positions (Step 140)'}
];
const W=1333,H=1307;
const pairs=f=>{const o=[];for(let i=0;i<f.length;i+=2)o.push([f[i],f[i+1]]);return o;};
const boxGrid=b=>({left:b[0],top:b[1],width:b[2]-b[0],height:b[3]-b[1],show:false,containLabel:false});
const lbl={color:INK,fontSize:9,fontFamily:FONT};
const nameSt={color:INK,fontSize:8,fontFamily:FONT};
const line={show:true,onZero:false,lineStyle:{color:FRAME,width:1.4}};
const tick={show:true,length:2.5,lineStyle:{color:FRAME,width:.8}};
const cats=Array.from({length:21},(_,i)=>i);
const opt={animation:false,backgroundColor:'transparent',textStyle:{fontFamily:FONT},title:[],grid:[],xAxis:[],yAxis:[],visualMap:[],series:[]};
const valAxis=(g,pos,vals,fmt,name,gap,split,margin)=>({type:'value',gridIndex:g,position:pos,min:0,max:21,interval:pos==='bottom'&&vals===xTicksHeat?5:2.5,
  axisLine:line,axisTick:{...tick,customValues:vals},axisLabel:{...lbl,margin,customValues:vals,formatter:fmt},
  splitLine:split?{show:true,lineStyle:{color:'#dcdcdc',width:1}}:{show:false},
  name,nameLocation:'middle',nameGap:gap,nameTextStyle:nameSt});
const titleSt={color:INK,fontSize:10.5,fontWeight:'normal',fontFamily:FONT};
panels.forEach(p=>{
  // heat map
  let g=opt.grid.length; opt.grid.push(boxGrid(p.heatBox));
  const xc=opt.xAxis.length,yc=opt.yAxis.length;
  opt.xAxis.push({type:'category',gridIndex:g,data:cats,show:false});
  opt.yAxis.push({type:'category',gridIndex:g,data:cats,show:false});
  opt.xAxis.push(valAxis(g,'bottom',xTicksHeat,v=>String(v),'X-axis',20,false,6));
  opt.yAxis.push(valAxis(g,'left',tickLabels,v=>v.toFixed(1),'Y-axis',31,false,5));
  const sIdx=opt.series.length;
  const cells=[];p.heat.forEach((r,i)=>r.forEach((v,c)=>cells.push([c,20-i,v])));
  opt.series.push({type:'heatmap',xAxisIndex:xc,yAxisIndex:yc,data:cells,itemStyle:{borderWidth:0},silent:true});
  opt.visualMap.push({type:'continuous',show:false,min:0,max:p.barMax,dimension:2,seriesIndex:sIdx,inRange:{color:jetEven}});
  opt.title.push({text:p.heatTitle,padding:0,left:(p.heatBox[0]+p.heatBox[2])/2,top:p.heatBox[1]-14,textAlign:'center',textStyle:titleSt});
  // colour bar
  g=opt.grid.length; opt.grid.push(boxGrid(p.barBox));
  const xb=opt.xAxis.length,yb=opt.yAxis.length;
  opt.xAxis.push({type:'category',gridIndex:g,data:['v'],show:false});
  opt.yAxis.push({type:'value',gridIndex:g,position:'right',min:0,max:p.barMax,axisLine:{show:false},axisTick:{...tick,customValues:p.barTicks},axisLabel:{...lbl,fontSize:8,margin:6,customValues:p.barTicks},splitLine:{show:false},name:'Visit Count',nameLocation:'middle',nameGap:20,nameTextStyle:nameSt});
  opt.series.push({type:'bar',xAxisIndex:xb,yAxisIndex:yb,data:[p.barMax],barWidth:'100%',silent:true,
    itemStyle:{borderColor:FRAME,borderWidth:1,color:new echarts.graphic.LinearGradient(0,1,0,0,jetEven.map((c,i)=>({offset:i/8,color:c})))}});
  // trajectories
  g=opt.grid.length; opt.grid.push({...boxGrid(p.trajBox),show:true,borderColor:FRAME,borderWidth:1.4,backgroundColor:'#fff'});
  const xt=opt.xAxis.length,yt=opt.yAxis.length;
  opt.xAxis.push(valAxis(g,'bottom',tickLabels,v=>v.toFixed(1),'X-axis',20,true,7));
  opt.yAxis.push(valAxis(g,'left',tickLabels,v=>v.toFixed(1),'Y-axis',28,true,5));
  opt.series.push({type:'custom',xAxisIndex:xt,yAxisIndex:yt,data:obstacle,silent:true,encode:{x:[0,2],y:[1,3]},clip:true,
    renderItem:(c,api)=>{const a=api.coord([api.value(0),api.value(3)]),b=api.coord([api.value(2),api.value(1)]);
      return {type:'group',children:[{type:'rect',shape:{x:a[0],y:a[1],width:b[0]-a[0],height:b[1]-a[1]},style:{fill:'#000'}}].concat(
        tickLabels.filter(v=>v>api.value(0)&&v<api.value(2)).map(v=>{const x=api.coord([v,0])[0];return {type:'line',shape:{x1:x,y1:a[1],x2:x,y2:b[1]},style:{stroke:'#777',lineWidth:1}};}))};}});
  p.traj.forEach((t,i)=>opt.series.push({type:'line',xAxisIndex:xt,yAxisIndex:yt,data:pairs(t),showSymbol:false,silent:true,lineStyle:{color:tab10[i],width:1.8},itemStyle:{color:tab10[i]},connectNulls:false}));
  opt.series.push({type:'scatter',xAxisIndex:xt,yAxisIndex:yt,data:p.red,symbolSize:6,clip:false,silent:true,itemStyle:{color:'#ee2020'},z:5});
  opt.series.push({type:'scatter',xAxisIndex:xt,yAxisIndex:yt,data:goal,symbolSize:7,clip:false,silent:true,itemStyle:{color:'#2020ee'},z:5});
  opt.title.push({text:p.trajTitle,padding:0,left:(p.trajBox[0]+p.trajBox[2])/2,top:p.trajBox[1]-15,textAlign:'center',textStyle:titleSt});
});
echarts.init(document.getElementById('c'),null,{width:W,height:H}).setOption(opt);
// captions and divider
const captions=[['(a)  Back step OA',327,627],['(b)  Stress-based OA',1005,631],['(c)  VFH',327,1280],['(d)  p-VFH',1001,1280]];
const capSt={color:'#222',fontSize:23,fontWeight:'normal',fontFamily:'Liberation Serif'};
const ov=echarts.init(document.getElementById('o'),null,{width:W,height:H});
ov.setOption({animation:false,backgroundColor:'transparent',
  title:captions.map(c=>({text:c[0],padding:0,left:c[1],top:c[2],textAlign:'center',textStyle:capSt})),
  graphic:[{type:'line',shape:{x1:646.5,y1:5,x2:646.5,y2:612},style:{stroke:'#cfcfcf',lineWidth:1},silent:true}]});
</script></body></html>
